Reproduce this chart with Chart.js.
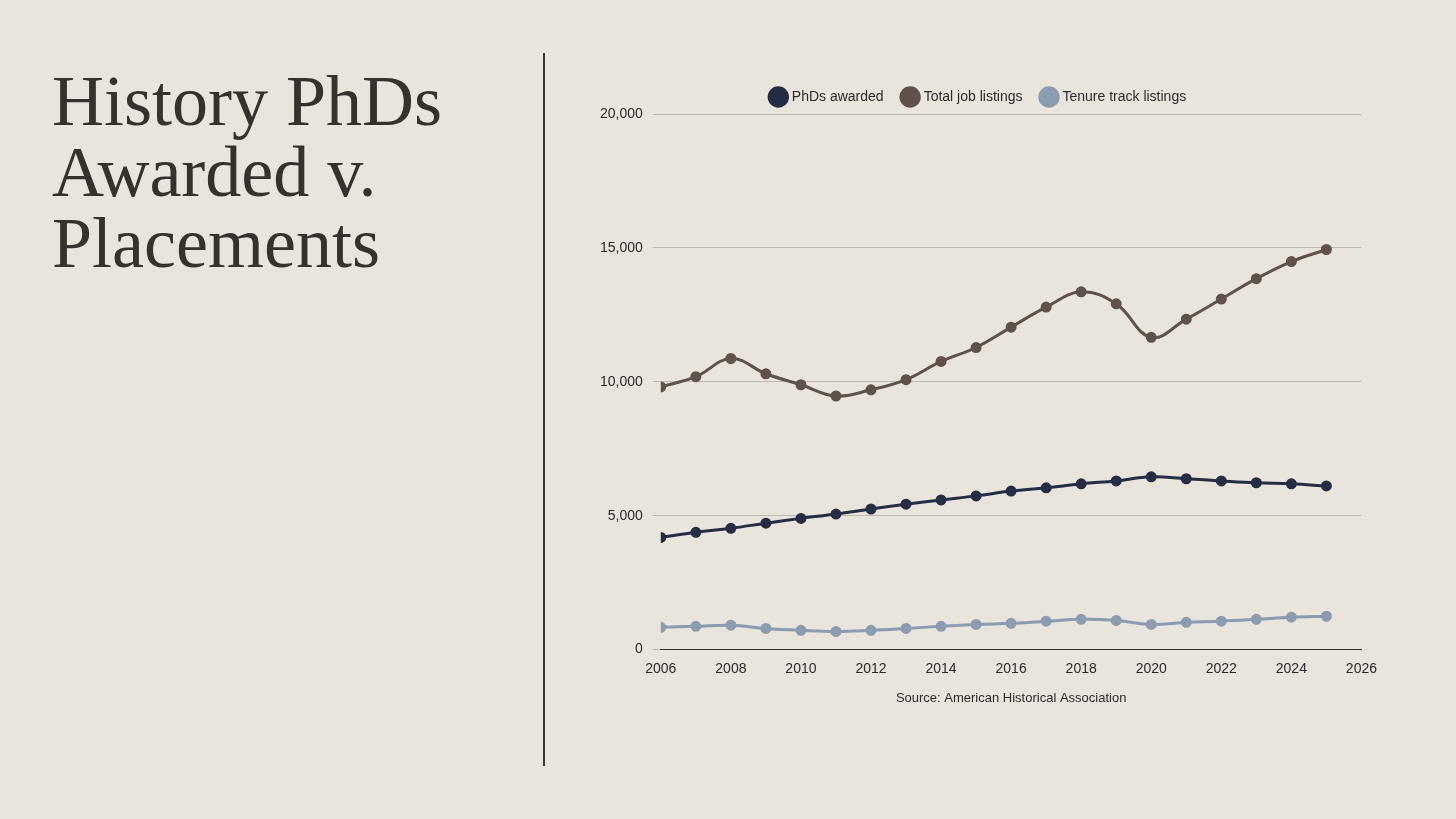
<!DOCTYPE html>
<html><head><meta charset="utf-8">
<script src="https://cdn.jsdelivr.net/npm/chart.js@4"></script>
<style>
html,body{margin:0;padding:0;background:#e9e4dc;width:1456px;height:819px;overflow:hidden;}
#title{position:absolute;left:52px;top:66px;font-family:"Liberation Serif","DejaVu Serif",serif;font-size:72px;line-height:71px;color:#35312d;margin:0;font-weight:normal;}
#divider{position:absolute;left:543px;top:53px;width:2px;height:713px;background:#3a3633;}
#wrap{position:absolute;left:590px;top:70px;width:790px;height:640px;}
</style></head><body>
<h1 id="title">History PhDs<br>Awarded v.<br>Placements</h1>
<div id="divider"></div>
<div id="wrap"><canvas id="c"></canvas></div>
<script>
const years=[2006,2007,2008,2009,2010,2011,2012,2013,2014,2015,2016,2017,2018,2019,2020,2021,2022,2023,2024,2025];
const phds=[4190,4380,4530,4720,4900,5060,5250,5430,5590,5740,5920,6040,6190,6300,6450,6380,6300,6230,6190,6110];
const totalJobs=[9810,10190,10870,10300,9890,9470,9700,10080,10760,11280,12040,12790,13360,12910,11660,12340,13090,13850,14490,14940];
const tenure=[830,870,910,790,720,680,720,790,870,940,980,1060,1130,1090,940,1020,1060,1130,1210,1245];
const yTicks=[0,5000,10000,15000,20000];
const mk=(label,data,color)=>({label,data:years.map((y,i)=>({x:y,y:data[i]})),borderColor:color,backgroundColor:color,borderWidth:3,pointRadius:4,pointHoverRadius:4,tension:0.4});
Chart.defaults.font.family="'Liberation Sans',Arial,sans-serif";
Chart.defaults.color="#2b2b2b";
new Chart(document.getElementById('c'),{type:'line',
data:{datasets:[mk('PhDs awarded',phds,'#252d45'),mk('Total job listings',totalJobs,'#5f514b'),mk('Tenure track listings',tenure,'#8b9cb0')]},
options:{responsive:true,maintainAspectRatio:false,animation:false,
layout:{padding:{right:12}},
plugins:{legend:{position:'top',labels:{usePointStyle:true,pointStyle:'circle',boxWidth:13,boxHeight:13,padding:20,font:{size:14}}},tooltip:{enabled:false}},
scales:{
x:{type:'linear',min:2006,max:2026,ticks:{stepSize:2,font:{size:14},callback:v=>String(v)},grid:{display:false},border:{color:'#333'},
 title:{display:true,text:'Source: American Historical Association',font:{size:13},padding:{top:10}}},
y:{min:0,max:20000,afterBuildTicks:a=>{a.ticks=yTicks.map(v=>({value:v}));},ticks:{font:{size:14},padding:10,callback:v=>v.toLocaleString('en-US')},grid:{color:'#bdb8b1'},border:{display:false}}
}}});
</script></body></html>
